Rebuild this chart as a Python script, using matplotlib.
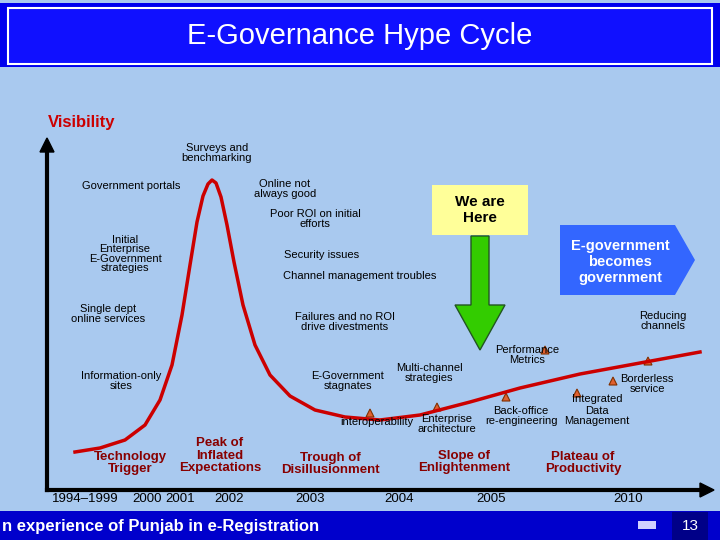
import matplotlib
matplotlib.use("Agg")
import matplotlib.pyplot as plt
from matplotlib.patches import Rectangle, Polygon

# Curve samples (pixel space)
curve_x = [75, 100, 125, 145, 160, 172, 182, 190, 197, 203, 208, 212, 216, 221, 227, 234, 243, 255, 270, 290, 315, 345, 380, 420, 470, 520, 580, 640, 700]
curve_y = [452, 448, 440, 425, 400, 365, 315, 265, 222, 196, 184, 180, 183, 197, 225, 262, 305, 345, 375, 396, 410, 417, 420, 415, 402, 388, 374, 363, 352]

years = ["1994\u20131999", "2000", "2001", "2002", "2003", "2004", "2005", "2010"]
year_x = [85, 147, 180, 229, 310, 399, 491, 628]

phases = ["Technology\nTrigger", "Peak of\nInflated\nExpectations", "Trough of\nDisillusionment",
          "Slope of\nEnlightenment", "Plateau of\nProductivity"]
phase_x = [130, 220, 330, 464, 583]
phase_y = [475, 474, 476, 474, 475]

labels = [
    ("Surveys and\nbenchmarking", 217, 153),
    ("Government portals", 131, 186),
    ("Online not\nalways good", 285, 189),
    ("Poor ROI on initial\nefforts", 315, 219),
    ("Initial\nEnterprise\nE-Government\nstrategies", 125, 254),
    ("Security issues", 322, 255),
    ("Channel management troubles", 360, 276),
    ("Single dept\nonline services", 108, 314),
    ("Failures and no ROI\ndrive divestments", 345, 322),
    ("Reducing\nchannels", 663, 321),
    ("Performance\nMetrics", 527, 355),
    ("Multi-channel\nstrategies", 429, 373),
    ("E-Government\nstagnates", 348, 381),
    ("Information-only\nsites", 121, 381),
    ("Borderless\nservice", 647, 384),
    ("Integrated", 597, 399),
    ("Back-office\nre-engineering", 521, 416),
    ("Data\nManagement", 597, 416),
    ("Enterprise\narchitecture", 447, 424),
    ("interoperability", 377, 422),
]

tri_x = [370, 437, 506, 577, 613, 648, 545]
tri_y = [413, 407, 397, 393, 381, 361, 350]

fig = plt.figure(figsize=(7.2, 5.4), dpi=100)
ax = fig.add_axes([0, 0, 1, 1])
ax.set_xlim(0, 720); ax.set_ylim(540, 0); ax.axis("off")
fig.patch.set_facecolor("#a9c9ef")

ax.add_patch(Rectangle((0, 3), 720, 64, facecolor="#0000ee", edgecolor="none"))
ax.add_patch(Rectangle((8, 8), 704, 56, facecolor="#1010ff", edgecolor="white", lw=1.5))
ax.text(360, 36, "E-Governance Hype Cycle", color="white", fontsize=21, ha="center", va="center", family="Liberation Sans")

ax.text(48, 122, "Visibility", color="#cc0000", fontsize=12, fontweight="bold", ha="left", va="center", family="Liberation Sans")

ax.plot([47, 47], [490, 150], color="black", lw=3)
ax.add_patch(Polygon([[40, 152], [54, 152], [47, 138]], color="black"))
ax.plot([47, 700], [490, 490], color="black", lw=3)
ax.add_patch(Polygon([[700, 483], [700, 497], [714, 490]], color="black"))

ax.plot(curve_x, curve_y, color="#cc0000", lw=2.5, solid_joinstyle="round")

for t, x, y in labels:
    ax.text(x, y, t, fontsize=8, ha="center", va="center", family="Liberation Sans", linespacing=0.95)

for x, y in zip(tri_x, tri_y):
    ax.add_patch(Polygon([[x - 4, y + 4], [x + 4, y + 4], [x, y - 4]], facecolor="#e06030", edgecolor="#803000", lw=0.8))

for t, x, y in zip(phases, phase_x, phase_y):
    ax.text(x, y, t, fontsize=9.5, fontweight="bold", color="#880000", ha="center", va="bottom",
            family="Liberation Sans", linespacing=1.05)

for t, x in zip(years, year_x):
    ax.text(x, 499, t, fontsize=9.5, ha="center", va="center", family="Liberation Sans")

ax.add_patch(Rectangle((432, 185), 96, 50, facecolor="#ffff99", edgecolor="none"))
ax.text(480, 210, "We are\nHere", fontsize=11, fontweight="bold", ha="center", va="center", family="Liberation Sans")
ax.add_patch(Polygon([[471, 236], [489, 236], [489, 305], [505, 305], [480, 350], [455, 305], [471, 305]],
                     facecolor="#33cc00", edgecolor="#225522", lw=1))

ax.add_patch(Polygon([[560, 225], [675, 225], [695, 260], [675, 295], [560, 295]], facecolor="#3366ff", edgecolor="none"))
ax.text(620, 262, "E-government\nbecomes\ngovernment", color="white", fontsize=10.5, fontweight="bold",
        ha="center", va="center", family="Liberation Sans")

ax.add_patch(Rectangle((0, 511), 720, 29, facecolor="#0000cc", edgecolor="none"))
ax.text(2, 526, "n experience of Punjab in e-Registration", color="white", fontsize=12, fontweight="bold",
        ha="left", va="center", family="Liberation Sans")
ax.add_patch(Rectangle((638, 521), 18, 8, facecolor="#d0d0ff", edgecolor="none"))
ax.add_patch(Rectangle((672, 512), 36, 28, facecolor="#000088", edgecolor="none"))
ax.text(690, 526, "13", color="white", fontsize=11, ha="center", va="center", family="Liberation Sans")

fig.savefig("out.png", dpi=100, facecolor=fig.get_facecolor())
